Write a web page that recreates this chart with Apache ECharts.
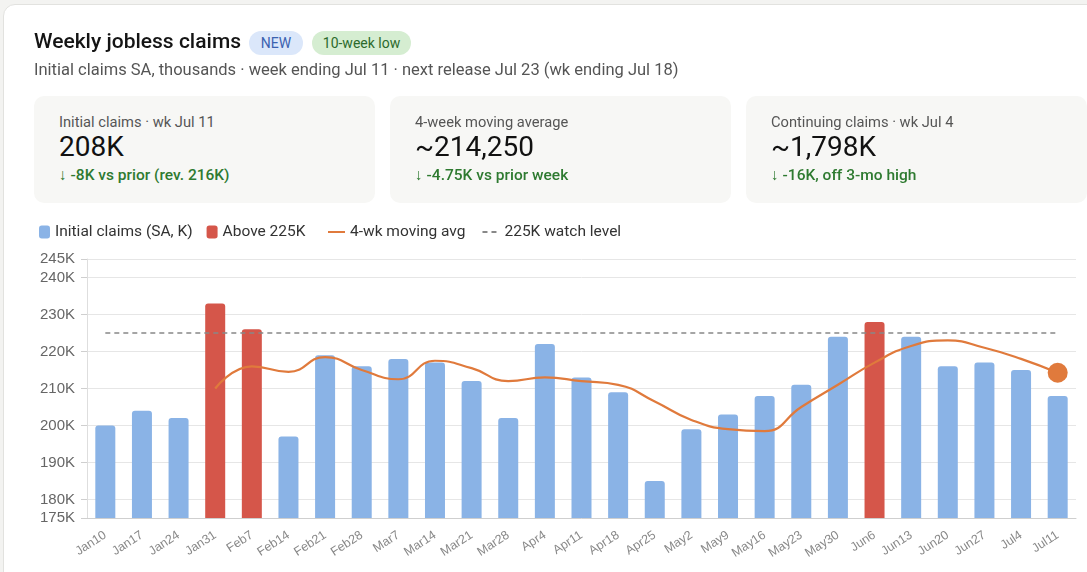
<!DOCTYPE html>
<html>
<head>
<meta charset="utf-8">
<script src="https://cdn.jsdelivr.net/npm/echarts@6/dist/echarts.min.js"></script>
<style>
html, body { margin: 0; padding: 0; width: 1087px; height: 572px; overflow: hidden; background: #f3f3f1; font-family: Roboto, "Noto Sans", sans-serif; }
.panel { position: absolute; left: 3px; top: 4px; width: 1120px; height: 620px; background: #fff; border: 1px solid #e2e2df; border-radius: 12px; }
#chart { position: absolute; left: 0; top: 0; width: 1087px; height: 572px; }
.title { position: absolute; left: 34px; top: 29px; font-size: 21px; font-weight: 500; color: #141414; white-space: nowrap; }
.pill { position: absolute; top: 31px; height: 24px; line-height: 24px; border-radius: 12px; font-size: 14px; text-align: center; }
.pill.new { left: 249px; width: 54px; background: #dbe7fa; color: #3b62b0; }
.pill.low { left: 312px; width: 99px; background: #d5edd1; color: #2c6a2c; }
.sub { position: absolute; left: 34px; top: 60px; font-size: 16.5px; color: #555; white-space: nowrap; }
.kpi { position: absolute; top: 96px; width: 341px; height: 107px; background: #f7f7f5; border-radius: 10px; }
.kpi .lab { position: absolute; left: 25px; top: 17px; font-size: 14.7px; color: #555; white-space: nowrap; }
.kpi .val { position: absolute; left: 25px; top: 34px; font-size: 28px; color: #111; white-space: nowrap; }
.kpi .chg { position: absolute; left: 25px; top: 70px; font-size: 15.5px; font-weight: 500; color: #2e7a30; white-space: nowrap; }
</style>
</head>
<body>
<div class="panel"></div>
<div id="chart"></div>
<div class="title">Weekly jobless claims</div>
<div class="pill new">NEW</div>
<div class="pill low">10-week low</div>
<div class="sub">Initial claims SA, thousands · week ending Jul 11 · next release Jul 23 (wk ending Jul 18)</div>
<div class="kpi" style="left:34px">
  <div class="lab">Initial claims · wk Jul 11</div>
  <div class="val">208K</div>
  <div class="chg">↓ -8K vs prior (rev. 216K)</div>
</div>
<div class="kpi" style="left:390px">
  <div class="lab">4-week moving average</div>
  <div class="val">~214,250</div>
  <div class="chg">↓ -4.75K vs prior week</div>
</div>
<div class="kpi" style="left:746px">
  <div class="lab">Continuing claims · wk Jul 4</div>
  <div class="val">~1,798K</div>
  <div class="chg">↓ -16K, off 3-mo high</div>
</div>
<script>
const weeks = ['Jan10', 'Jan17', 'Jan24', 'Jan31', 'Feb7', 'Feb14', 'Feb21', 'Feb28', 'Mar7', 'Mar14',
  'Mar21', 'Mar28', 'Apr4', 'Apr11', 'Apr18', 'Apr25', 'May2', 'May9', 'May16', 'May23',
  'May30', 'Jun6', 'Jun13', 'Jun20', 'Jun27', 'Jul4', 'Jul11']
const claims = [200, 204, 202, 233, 226, 197, 219, 216, 218, 217,
  212, 202, 222, 213, 209, 185, 199, 203, 208, 211,
  224, 228, 224, 216, 217, 215, 208]
// 4-wk avg starts at the 4th week
const movingAvg = [null, null, null, 210, 216, 214.5, 218.5, 215, 212.5, 217.5,
  215.5, 212, 213, 212, 211, 206.5, 201.5, 199, 198.5, 205,
  211, 217, 221.5, 223, 221, 218, 214.25]
const watchLevel = 225
const yTicks = [175, 180, 190, 200, 210, 220, 230, 240, 245]

let myChart = echarts.init(document.getElementById('chart'))

const normalBars = claims.map(v => (v > watchLevel ? null : v))
const highBars = claims.map(v => (v > watchLevel ? v : null))
const avgData = movingAvg.map((v, i) => {
  if (i === movingAvg.length - 1) {
    return { value: v, symbol: 'circle', symbolSize: 20 }
  }
  return v
})

const legendText = { color: '#333', fontSize: 15.5 }

let option = {
  animation: false,
  textStyle: { fontFamily: 'Roboto, "Noto Sans", sans-serif' },
  legend: [
    {
      left: 34,
      top: 219,
      itemWidth: 11,
      itemHeight: 13,
      itemGap: 14,
      textStyle: legendText,
      data: [
        { name: 'Initial claims (SA, K)', icon: 'roundRect' },
        { name: 'Above 225K', icon: 'roundRect' }
      ]
    },
    {
      left: 322,
      top: 219,
      itemWidth: 17,
      itemHeight: 13,
      itemGap: 16,
      textStyle: legendText,
      data: [
        { name: '4-wk moving avg', itemStyle: { opacity: 0 } },
        { name: '225K watch level', itemStyle: { opacity: 0 } }
      ]
    }
  ],
  grid: {
    left: 87,
    right: 11,
    top: 259,
    bottom: 54
  },
  xAxis: {
    type: 'category',
    data: weeks,
    axisLine: { lineStyle: { color: '#cfcfcf', width: 1 } },
    axisTick: { show: false },
    axisLabel: {
      rotate: 33,
      color: '#888',
      fontSize: 12.5,
      fontFamily: '"Liberation Sans", Arial, sans-serif',
      margin: 16
    }
  },
  yAxis: {
    type: 'value',
    min: 175,
    max: 245,
    axisLine: { show: true, lineStyle: { color: '#dedede' } },
    axisTick: { show: true, length: 6, customValues: yTicks, lineStyle: { color: '#cfcfcf' } },
    axisLabel: {
      customValues: yTicks,
      color: '#666',
      fontSize: 15,
      fontFamily: '"Liberation Sans", Arial, sans-serif',
      margin: 12,
      formatter: v => v + 'K'
    },
    splitLine: { lineStyle: { color: '#e6e6e6' } }
  },
  series: [
    {
      name: 'Initial claims (SA, K)',
      type: 'bar',
      stack: 'claims',
      data: normalBars,
      barWidth: 20,
      itemStyle: { color: '#8ab3e6', borderRadius: [3, 3, 0, 0] }
    },
    {
      name: 'Above 225K',
      type: 'bar',
      stack: 'claims',
      data: highBars,
      barWidth: 20,
      itemStyle: { color: '#d5564a', borderRadius: [3, 3, 0, 0] }
    },
    {
      name: '4-wk moving avg',
      type: 'line',
      data: avgData,
      smooth: true,
      symbol: 'none',
      z: 5,
      lineStyle: { color: '#e07a3c', width: 2.2 },
      itemStyle: { color: '#e07a3c' }
    },
    {
      name: '225K watch level',
      type: 'line',
      data: [],
      symbol: 'none',
      lineStyle: { color: '#888', width: 1.5, type: [5, 4] },
      itemStyle: { color: '#888' },
      markLine: {
        silent: true,
        symbol: 'none',
        label: { show: false },
        lineStyle: { color: '#888', width: 1.5, type: [5, 4] },
        data: [[
          { coord: [weeks[0], watchLevel] },
          { coord: [weeks[weeks.length - 1], watchLevel] }
        ]]
      }
    }
  ]
}
myChart.setOption(option)
</script>
</body>
</html>
